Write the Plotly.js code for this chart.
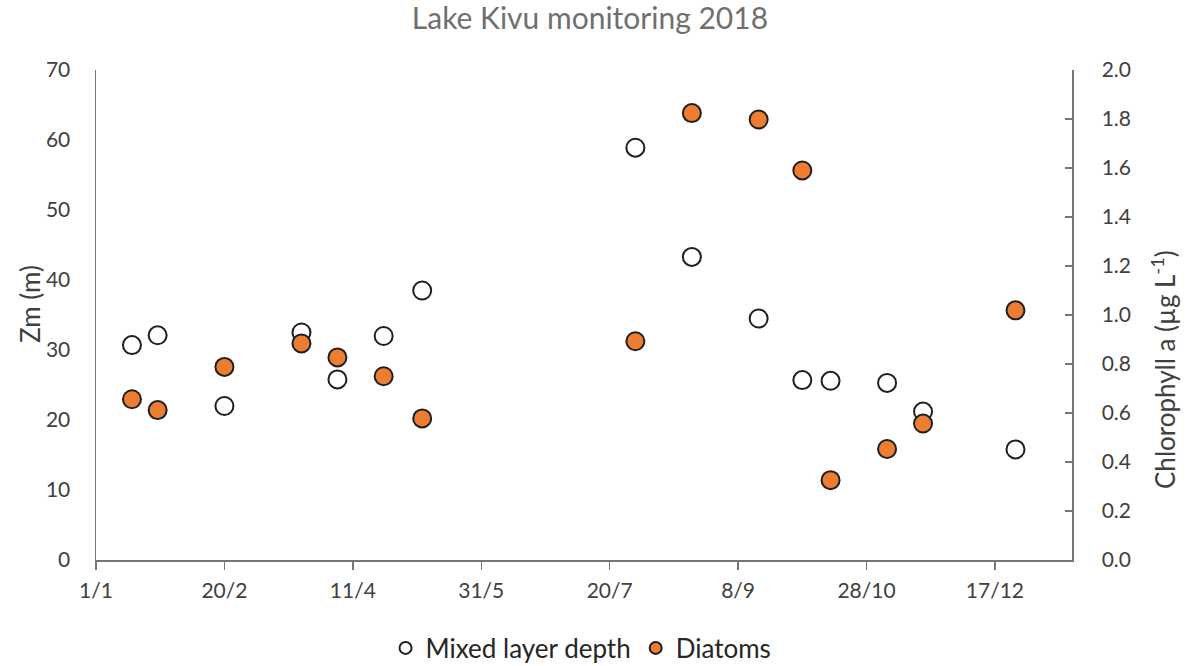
<!DOCTYPE html>
<html>
<head>
<meta charset="utf-8">
<script src="https://cdn.plot.ly/plotly-3.0.1.min.js"></script>
<style>html,body{margin:0;padding:0;background:#fff}#chart{width:1187px;height:666px}</style>
</head>
<body>
<div id="chart"></div>
<script>
// Sampling dates (2018)
const mixedDates = ['2018-01-15','2018-01-25','2018-02-20','2018-03-22','2018-04-05','2018-04-23','2018-05-08',
  '2018-07-30','2018-08-21','2018-09-16','2018-10-03','2018-10-14','2018-11-05','2018-11-19','2018-12-25'];
// Mixed layer depth Zm (m)
const mixedDepth = [30.7, 32.1, 22.0, 32.5, 25.8, 32.0, 38.5, 58.9, 43.3, 34.5, 25.7, 25.6, 25.3, 21.2, 15.8];
const diatomDates = mixedDates;
// Diatoms chlorophyll a (µg/L)
const diatomChl = [0.656, 0.612, 0.788, 0.884, 0.827, 0.750, 0.578, 0.893, 1.824, 1.798, 1.590, 0.326, 0.453, 0.557, 1.019];
// X tick labels
const xTickVals = ['2018-01-01','2018-02-20','2018-04-11','2018-05-31','2018-07-20','2018-09-08','2018-10-28','2018-12-17'];
const xTickText = ['1/1','20/2','11/4','31/5','20/7','8/9','28/10','17/12'];
const leftTitle = 'Zm (m)';
const rightTitle = 'Chlorophyll a (µg L<sup>-1</sup>)';

const font = 'Lato, "Open Sans", sans-serif';
const axisColor = '#767676';
const textColor = '#404040';

const traces = [
  {
    x: mixedDates, y: mixedDepth, name: 'Mixed layer depth', type: 'scatter', mode: 'markers',
    marker: {symbol: 'circle', size: 18, color: '#ffffff', line: {color: '#1f1f1f', width: 2}},
    yaxis: 'y'
  },
  {
    x: diatomDates, y: diatomChl, name: 'Diatoms', type: 'scatter', mode: 'markers',
    marker: {symbol: 'circle', size: 18, color: '#ED7D31', line: {color: '#1f1f1f', width: 2}},
    yaxis: 'y2'
  }
];

const W = 1187, H = 666;
const layout = {
  width: W, height: H,
  margin: {l: 96, r: 115, t: 70, b: 106, pad: 0},
  paper_bgcolor: '#fff', plot_bgcolor: '#fff',
  font: {family: font, color: textColor, size: 21},
  title: {text: 'Lake Kivu monitoring 2018', font: {family: font, size: 30, color: '#6f6f6f'}, x: 0.497, xanchor: 'center', y: 0.972, yanchor: 'middle'},
  showlegend: true,
  legend: {orientation: 'h', x: 0.497, xanchor: 'center', y: 0.027, yanchor: 'middle', yref: 'container',
    font: {family: font, size: 26, color: '#262626'}, itemsizing: 'constant', tracegroupgap: 0, itemwidth: 20, entrywidth: 0},
  xaxis: {
    type: 'date', range: ['2018-01-01', '2019-01-16'],
    tickvals: xTickVals, ticktext: xTickText, tickangle: 0,
    showgrid: false, zeroline: false, showline: true, linecolor: axisColor, linewidth: 1.5,
    ticks: 'outside', ticklen: 8, tickcolor: axisColor, tickwidth: 1.5,
    tickfont: {family: font, size: 21, color: textColor}, ticklabelstandoff: 3
  },
  yaxis: {
    range: [0, 70], dtick: 10, tick0: 0,
    showgrid: false, zeroline: false, showline: true, linecolor: axisColor, linewidth: 1.5,
    ticks: '', tickfont: {family: font, size: 21, color: textColor}, ticklabelstandoff: 20
  },
  yaxis2: {
    range: [0, 2], dtick: 0.2, tick0: 0, tickformat: '.1f', overlaying: 'y', side: 'right',
    showgrid: false, zeroline: false, showline: true, linecolor: axisColor, linewidth: 1.5,
    ticks: 'inside', ticklen: 7, tickcolor: axisColor, tickwidth: 1.5,
    tickfont: {family: font, size: 21, color: textColor}, ticklabelstandoff: 24
  },
  annotations: [
    {text: leftTitle, textangle: -90, xref: 'paper', yref: 'paper', x: (30 - 96) / (W - 96 - 115), y: (560 - 304) / 490,
     xanchor: 'center', yanchor: 'middle', showarrow: false, font: {family: font, size: 26, color: textColor}},
    {text: rightTitle, textangle: -90, xref: 'paper', yref: 'paper', x: (1163 - 96) / (W - 96 - 115), y: (560 - 370) / 490,
     xanchor: 'center', yanchor: 'middle', showarrow: false, font: {family: font, size: 26, color: textColor}}
  ]
};

Plotly.newPlot('chart', traces, layout, {displayModeBar: false, staticPlot: true});
</script>
</body>
</html>
